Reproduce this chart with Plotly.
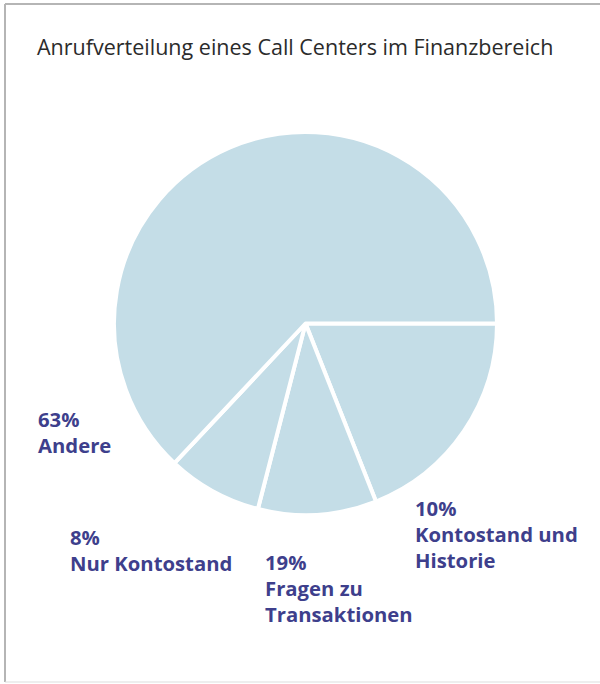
import plotly.graph_objects as go

W, H = 600, 684

title = "Anrufverteilung eines Call Centers im Finanzbereich"

# slices as drawn, clockwise from 3 o'clock
slice_names = ["Kontostand und Historie", "Fragen zu Transaktionen", "Nur Kontostand", "Andere"]
slice_sizes = [19, 10, 8, 63]

# labels as printed on the chart
label_pcts = ["10%", "19%", "8%", "63%"]
label_texts = ["Kontostand und\nHistorie", "Fragen zu\nTransaktionen", "Nur Kontostand", "Andere"]

pie_color = "#c4dde7"
label_color = "#3e3f8c"
title_color = "#2b2b2b"
FONT = "Open Sans"

fig = go.Figure(go.Pie(
    labels=slice_names,
    values=slice_sizes,
    sort=False,
    direction="clockwise",
    rotation=90,
    marker=dict(colors=[pie_color] * len(slice_sizes), line=dict(color="white", width=4)),
    textinfo="none",
    hoverinfo="label+percent",
    showlegend=False,
    domain=dict(x=[114 / W, 497 / W], y=[1 - 515 / H, 1 - 132 / H]),
))

# label anchor positions (px, top-left of first line)
label_pos = [(413, 492), (263, 546), (68, 521), (36, 403)]
line_gap = 26

ann = []
ann.append(dict(text=title, x=35 / W, y=1 - 30 / H, xref="paper", yref="paper",
                xanchor="left", yanchor="top", showarrow=False,
                font=dict(family=FONT, size=21.5, color=title_color)))
for (px, py), pct, txt in zip(label_pos, label_pcts, label_texts):
    lines = [pct] + txt.split("\n")
    for i, ln in enumerate(lines):
        ann.append(dict(text=ln, x=px / W, y=1 - (py + i * line_gap) / H,
                        xref="paper", yref="paper", xanchor="left", yanchor="top",
                        showarrow=False,
                        font=dict(family=FONT, size=20.3, color=label_color, weight=700)))

frame = "#b5b5b5"
shapes = [
    dict(type="line", xref="paper", yref="paper", x0=5 / W, x1=5 / W, y0=1 - 4 / H, y1=1 - 682 / H,
         line=dict(color=frame, width=2)),
    dict(type="line", xref="paper", yref="paper", x0=5 / W, x1=1, y0=1 - 4 / H, y1=1 - 4 / H,
         line=dict(color=frame, width=2)),
    dict(type="line", xref="paper", yref="paper", x0=5 / W, x1=1, y0=1 - 682 / H, y1=1 - 682 / H,
         line=dict(color="#dddddd", width=1)),
]

fig.update_layout(
    width=W, height=H,
    margin=dict(l=0, r=0, t=0, b=0),
    paper_bgcolor="white",
    plot_bgcolor="white",
    annotations=ann,
    shapes=shapes,
)

fig.write_html("out.html", config={"displayModeBar": False},
               post_script="document.body.style.margin='0';")
